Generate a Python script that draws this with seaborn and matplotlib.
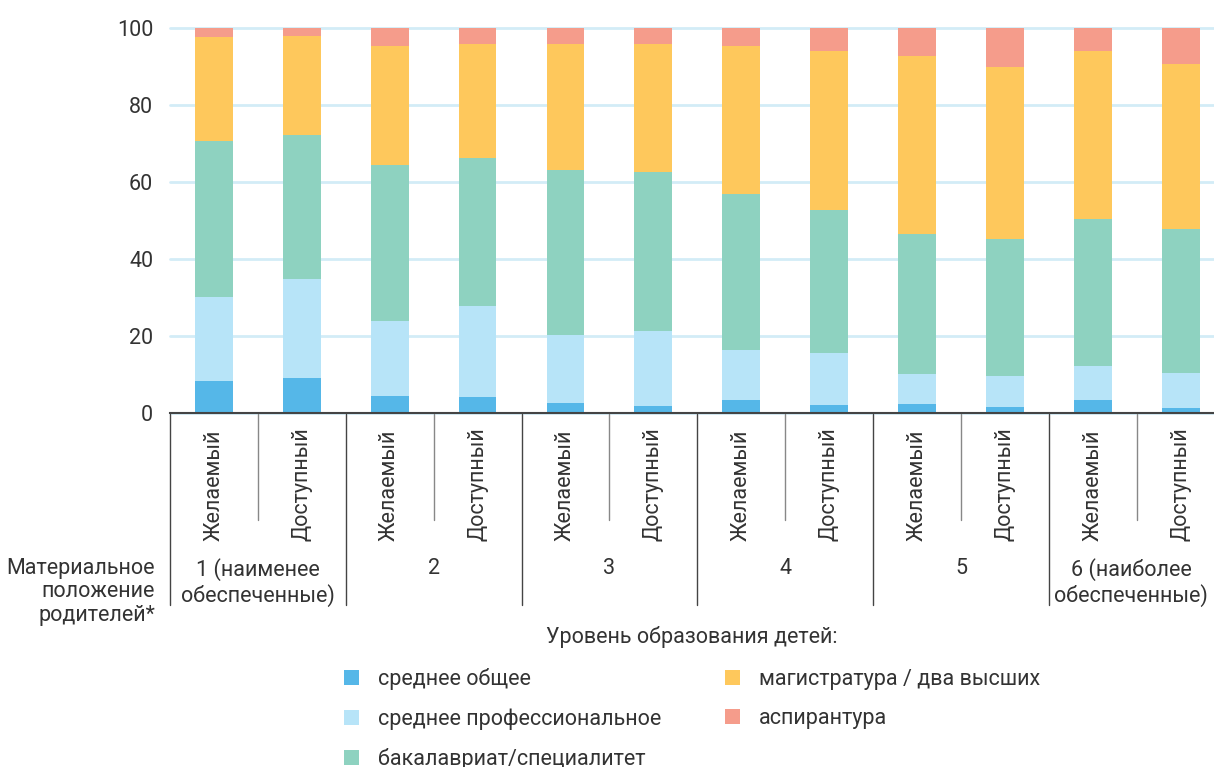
import pandas as pd
import seaborn as sns
import matplotlib.pyplot as plt
from matplotlib.patches import Patch
from matplotlib.transforms import blended_transform_factory


# данные: 6 групп по материальному положению, в каждой "Желаемый" / "Доступный"
gruppy = ['1 (наименее\nобеспеченные)', '2', '3', '4', '5', '6 (наиболее\nобеспеченные)']
tip = ['Желаемый', 'Доступный']

sred_obshee = [8.3, 9.1, 4.4, 4.1, 2.6, 1.8, 3.4, 2.1, 2.3, 1.6, 3.4, 1.3]
sred_prof = [21.8, 25.6, 19.4, 23.6, 17.6, 19.4, 12.9, 13.4, 7.8, 8.0, 8.8, 9.1]
bakalavr = [40.6, 37.6, 40.7, 38.6, 42.8, 41.5, 40.7, 37.3, 36.3, 35.7, 38.1, 37.5]
magistr = [27.0, 25.6, 30.8, 29.6, 32.9, 33.2, 38.3, 41.2, 46.3, 44.6, 43.7, 42.8]
aspirant = [2.3, 2.1, 4.7, 4.1, 4.1, 4.1, 4.7, 6.0, 7.3, 10.1, 6.0, 9.3]

nazvaniya = ['среднее общее', 'среднее профессиональное', 'бакалавриат/специалитет',
             'магистратура / два высших', 'аспирантура']
cveta = ['#55b7e8', '#b7e4f8', '#8ed2c0', '#fec85c', '#f59c8b']

sns.set_style('white')
plt.rcParams['font.family'] = ['Roboto', 'DejaVu Sans']
tekst = '#333333'
fs = 15.5

df = pd.DataFrame({
    'bar': [str(i) for i in range(12)],
    nazvaniya[0]: sred_obshee,
    nazvaniya[1]: sred_prof,
    nazvaniya[2]: bakalavr,
    nazvaniya[3]: magistr,
    nazvaniya[4]: aspirant,
})
cum = df[nazvaniya].cumsum(axis=1)

fig = plt.figure(figsize=(12.14, 7.67), dpi=100)
ax = fig.add_axes([170 / 1214, 1 - 413 / 767, 1 - 170 / 1214, 385 / 767])

# стопка: рисуем накопленные суммы сверху вниз
poryadok = [str(i) for i in range(12)]
for name, c in reversed(list(zip(nazvaniya, cveta))):
    sns.barplot(x=df['bar'], y=cum[name], order=poryadok, color=c, saturation=1,
                width=0.43, ax=ax, linewidth=0)

ax.set_xlim(-0.5, 11.38)
ax.set_ylim(0, 100)
ax.set_yticks([0, 20, 40, 60, 80, 100])
ax.tick_params(axis='y', length=0, pad=12, labelsize=fs, labelcolor=tekst)
ax.set_xticks([])
ax.set_xlabel('')
ax.set_ylabel('')
ax.yaxis.grid(True, color='#d3ecf7', lw=2, clip_on=False)
ax.set_axisbelow(True)
for s in ['top', 'right', 'left']:
    ax.spines[s].set_visible(False)
ax.spines['bottom'].set_color('#444444')
ax.spines['bottom'].set_linewidth(1.5)

tr = blended_transform_factory(ax.transData, fig.transFigure)
def fy(px):
    return 1 - px / 767

# подписи столбцов
for i in range(12):
    ax.text(i, fy(541), tip[i % 2], transform=tr, rotation=90, ha='center', va='bottom',
            fontsize=fs, color=tekst)

# разделители
for i in range(6):
    x = 2 * i - 0.5
    ax.plot([x, x], [fy(414), fy(605)], transform=tr, color='#444444', lw=1, clip_on=False)
    ax.plot([x + 1, x + 1], [fy(414), fy(520)], transform=tr, color='#888888', lw=1, clip_on=False)

# подписи групп
for i, g in enumerate(gruppy):
    xc = 2 * i + 0.5 if i < 5 else 10.44
    ax.text(xc, fy(558), g, transform=tr, ha='center', va='top',
            fontsize=fs, color=tekst, linespacing=1.15)

fig.text(155 / 1214, fy(558), 'Материальное\nположение\nродителей*', ha='right', va='top',
         fontsize=fs, color=tekst, linespacing=1.15)

# легенда
fig.text(692 / 1214, fy(637), 'Уровень образования детей:', ha='center', va='center',
         fontsize=fs, color=tekst)
handles = [Patch(facecolor=c, edgecolor='none') for c in cveta]
leg = fig.legend(handles, nazvaniya, loc='upper center', bbox_to_anchor=(692 / 1214, fy(655)),
                 ncol=2, frameon=False, fontsize=fs, handlelength=0.7, handleheight=0.7,
                 handletextpad=0.85, labelspacing=0.86, columnspacing=3.0, borderpad=0.1)
for t in leg.get_texts():
    t.set_color(tekst)

plt.savefig('out.png', dpi=100)
